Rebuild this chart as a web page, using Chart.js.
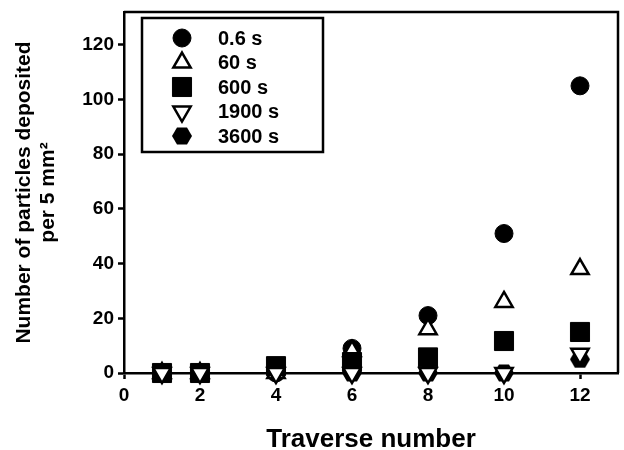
<!DOCTYPE html>
<html>
<head>
<meta charset="utf-8">
<script src="https://cdn.jsdelivr.net/npm/chart.js@4"></script>
<style>
  html, body { margin: 0; padding: 0; background: #fff; overflow: hidden; }
  #wrap { width: 624px; height: 450px; }
  canvas { display: block; }
</style>
</head>
<body>
<div id="wrap"><canvas id="chartCanvas" width="624" height="450"></canvas></div>
<script>
// values
const traverse = [1, 2, 4, 6, 8, 10, 12];
const seriesLabels = ["0.6 s", "60 s", "600 s", "1900 s", "3600 s"];
const s0_6 = [0, 0, 0, 9, 21, 51, 105];
const s60 = [0, 0, 0, 8, 16, 26, 38];
const s600 = [0, 0, 2.5, 4, 5.7, 11.7, 15];
const s1900 = [0, 0, 0, 0, 0, 0, 7];
const s3600 = [null, null, null, 0, 0, 0, 5];
const xTicks = [0, 2, 4, 6, 8, 10, 12];
const yTicks = [0, 20, 40, 60, 80, 100, 120];

const FONT = "Arial, 'Liberation Sans', Helvetica, sans-serif";

// hexagon marker (no built-in style for it)
function makeHexagon() {
    const c = document.createElement("canvas");
    c.width = 20; c.height = 18;
    const g = c.getContext("2d");
    g.fillStyle = "#000";
    g.beginPath();
    g.moveTo(0, 9); g.lineTo(5, 0.5); g.lineTo(15, 0.5);
    g.lineTo(20, 9); g.lineTo(15, 17.5); g.lineTo(5, 17.5);
    g.closePath();
    g.fill();
    return c;
}
const hexagon = makeHexagon();

function pts(values) {
    return traverse.map((x, i) => ({ x: x, y: values[i] }));
}

const datasets = [
    { label: seriesLabels[0], data: pts(s0_6), pointStyle: "circle", pointRadius: 9,
      backgroundColor: "#000", borderColor: "#000", borderWidth: 1, order: 5 },
    { label: seriesLabels[1], data: pts(s60), pointStyle: "triangle", pointRadius: 10,
      backgroundColor: "#fff", borderColor: "#000", borderWidth: 2.5, order: 4 },
    { label: seriesLabels[2], data: pts(s600), pointStyle: "rect", pointRadius: 13.5,
      backgroundColor: "#000", borderColor: "#000", borderWidth: 1, order: 3 },
    { label: seriesLabels[3], data: pts(s1900), pointStyle: "triangle", pointRotation: 180, pointRadius: 10,
      backgroundColor: "#fff", borderColor: "#000", borderWidth: 2.5, order: 1 },
    { label: seriesLabels[4], data: pts(s3600), pointStyle: hexagon, pointRadius: 10,
      backgroundColor: "#000", borderColor: "#000", borderWidth: 1, order: 2 }
];
datasets.forEach(d => { d.showLine = false; d.clip = false; d.pointHoverRadius = d.pointRadius; });

// frame on top/right plus the boxed legend inside the plot
const framePlugin = {
    id: "frame",
    afterDatasetsDraw(chart) {
        const { ctx, chartArea } = chart;
        ctx.save();
        ctx.strokeStyle = "#000";
        ctx.lineWidth = 2.5;
        ctx.beginPath();
        ctx.moveTo(chartArea.left, chartArea.top);
        ctx.lineTo(chartArea.right, chartArea.top);
        ctx.lineTo(chartArea.right, chartArea.bottom);
        ctx.stroke();

        // legend box
        const bx = 142, by = 18, bw = 181, bh = 134;
        ctx.fillStyle = "#fff";
        ctx.fillRect(bx, by, bw, bh);
        ctx.lineWidth = 2.5;
        ctx.strokeRect(bx, by, bw, bh);
        ctx.font = "bold 20px " + FONT;
        ctx.textBaseline = "middle";
        ctx.textAlign = "left";
        chart.data.datasets.forEach((d, i) => {
            const y = 38 + i * 24.5;
            ctx.fillStyle = d.backgroundColor;
            ctx.strokeStyle = d.borderColor;
            ctx.lineWidth = d.borderWidth;
            Chart.helpers.drawPoint(ctx, {
                pointStyle: d.pointStyle,
                rotation: d.pointRotation || 0,
                radius: d.pointRadius,
                borderWidth: d.borderWidth
            }, 182, y);
            ctx.fillStyle = "#000";
            ctx.fillText(d.label, 218, y + 1);
        });
        ctx.restore();
    }
};

const ctx = document.getElementById("chartCanvas").getContext("2d");

new Chart(ctx, {
    type: "scatter",
    data: { datasets: datasets },
    options: {
        responsive: false,
        animation: false,
        events: [],
        layout: { autoPadding: false, padding: { top: 12, right: 6, left: 0, bottom: 0 } },
        plugins: { legend: { display: false }, tooltip: { enabled: false } },
        scales: {
            x: {
                type: "linear",
                min: 0,
                max: 13,
                afterFit: s => { s.height = 77; s.paddingRight = 0; s.paddingLeft = 0; },
                afterBuildTicks: s => { s.ticks = xTicks.map(v => ({ value: v })); },
                ticks: { includeBounds: false, color: "#000", padding: 5,
                         font: { family: FONT, size: 19, weight: "bold" } },
                grid: { drawOnChartArea: false, color: "#000", tickLength: 6, tickWidth: 2.5 },
                border: { color: "#000", width: 2.5 },
                title: { display: true, text: "Traverse number", color: "#000",
                         padding: { top: 0, bottom: -3 },
                         font: { family: FONT, size: 26, weight: "bold", lineHeight: 1 } }
            },
            y: {
                min: 0,
                max: 132,
                afterFit: s => { s.width = 124; s.paddingTop = 0; s.paddingBottom = 0; },
                afterBuildTicks: s => { s.ticks = yTicks.map(v => ({ value: v })); },
                ticks: { includeBounds: false, color: "#000", padding: 4,
                         font: { family: FONT, size: 19, weight: "bold" } },
                grid: { drawOnChartArea: false, color: "#000", tickLength: 6, tickWidth: 2.5 },
                border: { color: "#000", width: 2.5 },
                title: { display: true, text: ["Number of particles deposited", "per 5 mm\u00B2"],
                         color: "#000", padding: { top: 12, bottom: 0 },
                         font: { family: FONT, size: 21, weight: "bold", lineHeight: 1.15 } }
            }
        }
    },
    plugins: [framePlugin]
});
</script>
</body>
</html>
